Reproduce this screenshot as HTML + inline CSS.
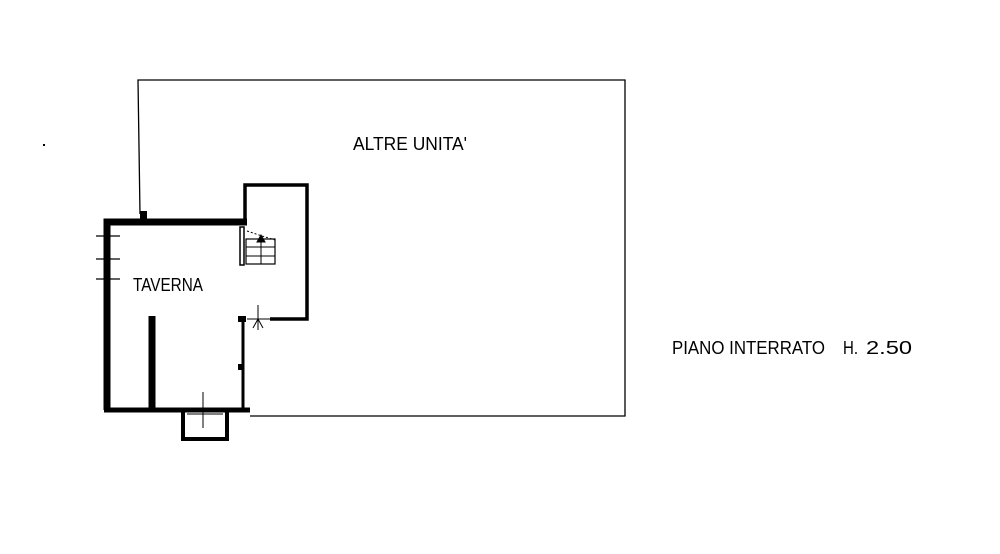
<!DOCTYPE html>
<html><head><style>html,body{margin:0;padding:0;background:#fff}</style></head>
<body>
<svg width="1000" height="549" viewBox="0 0 1000 549" xmlns="http://www.w3.org/2000/svg">
<g fill="none" stroke="#000">
<polyline points="140,214 138,80 625,80 625,416 250,416" stroke-width="1.3"/>
<polyline points="107,410 107,222 247,222" stroke-width="7"/>
<line x1="104" y1="410" x2="250" y2="410" stroke-width="5"/>
<rect x="140" y="211" width="7" height="8" fill="#000" stroke="none"/>
<polyline points="245,222 245,185 307,185 307,319 270,319" stroke-width="3.5"/>
<line x1="243" y1="319" x2="243" y2="410" stroke-width="3"/>
<rect x="238" y="316" width="8" height="6" fill="#000" stroke="none"/>
<rect x="238" y="364" width="5" height="6" fill="#000" stroke="none"/>
<line x1="152" y1="316" x2="152" y2="410" stroke-width="7"/>
<polyline points="183,410 183,439 227,439 227,410" stroke-width="4"/>
<line x1="203" y1="392" x2="203" y2="428" stroke-width="1"/>
<line x1="187" y1="414" x2="223" y2="414" stroke-width="1"/>
<line x1="96" y1="236" x2="120" y2="236" stroke-width="1.2"/>
<line x1="96" y1="259" x2="120" y2="259" stroke-width="1.2"/>
<line x1="96" y1="279" x2="120" y2="279" stroke-width="1.2"/>
<rect x="240" y="227" width="4" height="38" stroke-width="1.5"/>
<rect x="246" y="239" width="29" height="25" stroke-width="1.2"/>
<line x1="246" y1="247" x2="275" y2="247" stroke-width="1"/>
<line x1="246" y1="256" x2="275" y2="256" stroke-width="1"/>
<line x1="261" y1="237" x2="261" y2="264" stroke-width="1"/>
<path d="M247,231 L262,236 L275,240" stroke-width="1" stroke-dasharray="2,2"/>
<path d="M257,242 L261,235 L265,242 Z" fill="#000" stroke-width="1"/>
<line x1="258" y1="305" x2="258" y2="330" stroke-width="1"/>
<line x1="247" y1="319" x2="270" y2="319" stroke-width="1"/>
<path d="M253,328 L258,319 L263,328" stroke-width="1"/>
</g>
<rect x="43" y="144" width="2" height="2" fill="#000"/>
<g font-family="Liberation Sans, sans-serif" font-size="18" fill="#000">
<text x="353" y="150" textLength="114" lengthAdjust="spacingAndGlyphs">ALTRE UNITA'</text>
<text x="133" y="291" textLength="70" lengthAdjust="spacingAndGlyphs">TAVERNA</text>
<text x="672" y="354" textLength="153" lengthAdjust="spacingAndGlyphs">PIANO INTERRATO</text>
<text x="843" y="354" textLength="15" lengthAdjust="spacingAndGlyphs">H.</text>
<text x="866" y="354" textLength="46" lengthAdjust="spacingAndGlyphs">2.50</text>
</g>
</svg>
</body></html>
